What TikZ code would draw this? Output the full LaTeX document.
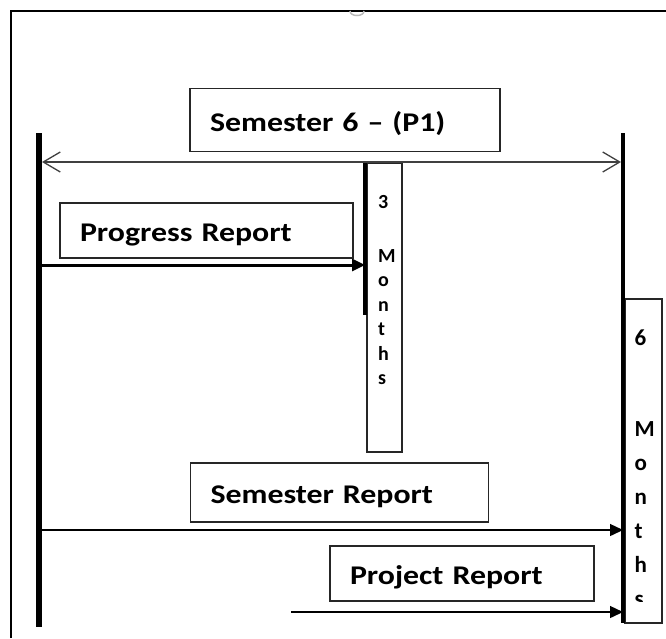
\documentclass[tikz,border=0pt]{standalone}
\usepackage{fontspec}
\setmainfont{Carlito}[FakeStretch=1.18]
\newfontfamily\monthfont{Carlito}
\usetikzlibrary{arrows.meta,calc,positioning}

\tikzset{
  repbox/.style={draw=black!85, line width=1.3pt, align=left, inner xsep=20pt, inner ysep=0pt,
    text height=25pt, text depth=3pt, font=\bfseries\fontsize{27}{30}\selectfont},
  monthbox/.style={draw=black!85, line width=1.1pt, inner sep=0pt},
  monthtext/.style={align=left, inner sep=0pt, anchor=base west},
  lifeline/.style={line width=#1},
  msg/.style={line width=1.4pt, -{Triangle[length=13pt,width=12pt]}},
}

\begin{document}
\begin{tikzpicture}[x=1pt,y=-1pt]
\useasboundingbox (0,0) rectangle (666,638);

% page frame
\draw[line width=2pt] (10.7,638) -- (10.7,10.7) -- (666,10.7);
\draw[gray!55, line width=1.5pt] (350,11) .. controls (350,17) and (364,17) .. (364,11);

% boxes
\node[repbox, text width=270pt, minimum height=63pt] (sem6) at (345,120) {Semester 6 -- (P1)};
\node[repbox, text width=253pt, minimum height=55pt] (prog) at (206.5,230.5) {Progress Report};
\node[repbox, text width=258pt, minimum height=59pt] (semrep) at (339.5,492.5) {Semester Report};
\node[repbox, text width=224pt, minimum height=55pt] (projrep) at (462,573.5) {Project Report};

\node[monthbox, minimum width=35pt, minimum height=289pt] (m3box) at (384.5,307.5) {};
\node[monthbox, minimum width=37pt, minimum height=324pt] (m6box) at (643.5,461) {};

% letters, anchored on the last line
\node[monthtext, font=\monthfont\bfseries\fontsize{20}{24.5}\selectfont] (m3txt) at (378,384.5)
  {3\\[29.5pt]M\\o\\n\\t\\h\\s};
\begin{scope}
  \clip (624,299) rectangle (662,601);
  \node[monthtext, font=\monthfont\bfseries\fontsize{23}{34}\selectfont] (m6txt) at (634.5,606)
    {6\\[57pt]M\\o\\n\\t\\h\\s};
\end{scope}

% life lines
\coordinate (ltop) at (39,133);  \coordinate (lbot) at (39,627);
\coordinate (rtop) at (623,133); \coordinate (rbot) at (623,623);
\coordinate (m3top) at (365,163); \coordinate (m3end) at (365,315);
\draw[lifeline=6pt] (ltop) -- (lbot);
\draw[lifeline=4.5pt] (rtop) -- (rbot);
\draw[lifeline=4pt] (m3top) -- (m3end);

% span arrow
\coordinate (spanL) at (42,162); \coordinate (spanR) at (621,162);
\draw[black!75, line width=1.3pt, {Straight Barb[length=17pt,width=20pt]}-{Straight Barb[length=17pt,width=20pt]}] (spanL) -- (spanR);

% messages
\coordinate (pgs) at (42,265);
\coordinate (sms) at (42,530);
\coordinate (pjs) at (291,612);
\draw[msg, line width=3pt] (pgs) -- (pgs -| m3top);
\draw[msg] (sms) -- (sms -| rtop);
\draw[msg] (pjs) -- (pjs -| rtop);
\end{tikzpicture}
\end{document}
